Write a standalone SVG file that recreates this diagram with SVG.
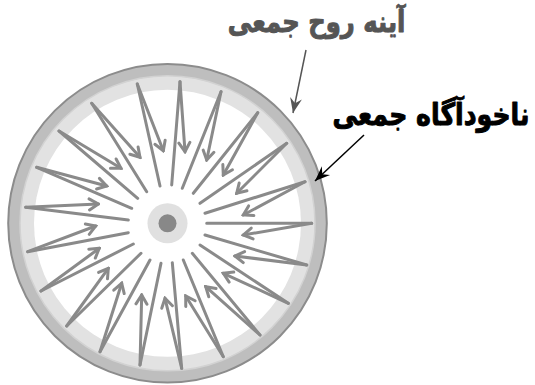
<svg xmlns="http://www.w3.org/2000/svg" width="535" height="385" viewBox="0 0 535 385">
<style>
.sp{fill:none;stroke:#8a8a8a;stroke-width:3;stroke-linecap:round}
.ar{fill:none;stroke:#8a8a8a;stroke-width:3;stroke-linecap:round;marker-end:url(#ah)}
.lbl{font-family:"DejaVu Sans",sans-serif;font-weight:bold;text-anchor:middle;stroke-width:0.8;stroke-linejoin:round}
</style>
<defs>
<marker id="ah" viewBox="-12 -8 14 16" refX="0" refY="0" markerWidth="14" markerHeight="16" markerUnits="userSpaceOnUse" orient="auto">
<path d="M-9,-5.5 L0,0 L-9,5.5" fill="none" stroke="#8a8a8a" stroke-width="3" stroke-linecap="round" stroke-linejoin="miter"/>
</marker>
<marker id="pg" viewBox="-16 -8 18 16" refX="0" refY="0" markerWidth="18" markerHeight="16" markerUnits="userSpaceOnUse" orient="auto">
<path d="M0,0 L-15,-6 L-10,0 L-15,6 Z" fill="#555"/>
</marker>
<marker id="pb" viewBox="-16 -8 18 16" refX="0" refY="0" markerWidth="18" markerHeight="16" markerUnits="userSpaceOnUse" orient="auto">
<path d="M0,0 L-15,-6 L-10,0 L-15,6 Z" fill="#000"/>
</marker>
</defs>
<g id="wheel">
<circle cx="167.5" cy="223.3" r="159.3" fill="#bebebe" stroke="#8c8c8c" stroke-width="2"/>
<circle cx="167.5" cy="223.3" r="147.5" fill="#e2e2e2" stroke="#d2d2d2" stroke-width="1.5"/>
<circle cx="167.5" cy="223.3" r="133.5" fill="#ffffff"/>
<circle cx="167.5" cy="223.3" r="20" fill="#e0e0e0"/>
<circle cx="167.5" cy="223.3" r="9" fill="#888888"/>
</g>
<g id="spokes">
<path class="sp" d="M180,81.7L171.7,185M221,91.7L182.3,188.3M257.7,112.7L193.3,193.3M286.7,143.3L200,203.3M305,181.7L205,213.3M311.7,223.3L206.7,223.3M306.7,265L205,235M288.3,303.3L200,245M260,335L192.3,253.3M223.3,356.7L183.3,260M181.7,368.3L172.3,262.7M140,365L161,263.3M100,351.7L150,260M66.7,326L141,253.3M41,291L133.3,244M27.7,251.7L128.3,232.7M25.7,207.3L128.3,220M36.7,167.3L131.7,208.3M59,131L137.7,198.3M91.7,103.3L146.7,191.7M137.3,84L160,186"/>
<line class="ar" x1="180" y1="81.7" x2="185" y2="151.7"/>
<line class="ar" x1="221" y1="91.7" x2="206.7" y2="160"/>
<line class="ar" x1="257.7" y1="112.7" x2="223.3" y2="175"/>
<line class="ar" x1="286.7" y1="143.3" x2="236.7" y2="193.3"/>
<line class="ar" x1="305" y1="181.7" x2="243.3" y2="215"/>
<line class="ar" x1="311.7" y1="223.3" x2="243.3" y2="235"/>
<line class="ar" x1="306.7" y1="265" x2="235" y2="256"/>
<line class="ar" x1="288.3" y1="303.3" x2="223.3" y2="273.3"/>
<line class="ar" x1="260" y1="335" x2="205.7" y2="286.7"/>
<line class="ar" x1="223.3" y1="356.7" x2="185.7" y2="296"/>
<line class="ar" x1="181.7" y1="368.3" x2="165" y2="298.3"/>
<line class="ar" x1="140" y1="365" x2="141.7" y2="295"/>
<line class="ar" x1="100" y1="351.7" x2="121.7" y2="283.3"/>
<line class="ar" x1="66.7" y1="326" x2="108.3" y2="268.3"/>
<line class="ar" x1="41" y1="291" x2="99.3" y2="248.3"/>
<line class="ar" x1="27.7" y1="251.7" x2="95.7" y2="226"/>
<line class="ar" x1="25.7" y1="207.3" x2="98.3" y2="204"/>
<line class="ar" x1="36.7" y1="167.3" x2="106.7" y2="186"/>
<line class="ar" x1="59" y1="131" x2="121" y2="168.3"/>
<line class="ar" x1="91.7" y1="103.3" x2="140" y2="157.3"/>
<line class="ar" x1="137.3" y1="84" x2="163.3" y2="150.7"/>
</g>
<g id="label-mirror">
<text class="lbl" x="0" y="0" transform="translate(316.5,32) scale(1,1.22)" font-size="24.3" fill="#555555" stroke="#555555">آینه روح جمعی</text>
</g>
<g id="label-unconscious">
<text class="lbl" x="0" y="0" transform="translate(431,125) scale(1,1.22)" font-size="25.2" fill="#000000" stroke="#000000">ناخودآگاه جمعی</text>
</g>
<g id="connectors">
<line x1="306" y1="50" x2="293" y2="113" stroke="#555555" stroke-width="1.5" marker-end="url(#pg)"/>
<line x1="364" y1="135" x2="315" y2="181" stroke="#000000" stroke-width="1.5" marker-end="url(#pb)"/>
</g>
</svg>
